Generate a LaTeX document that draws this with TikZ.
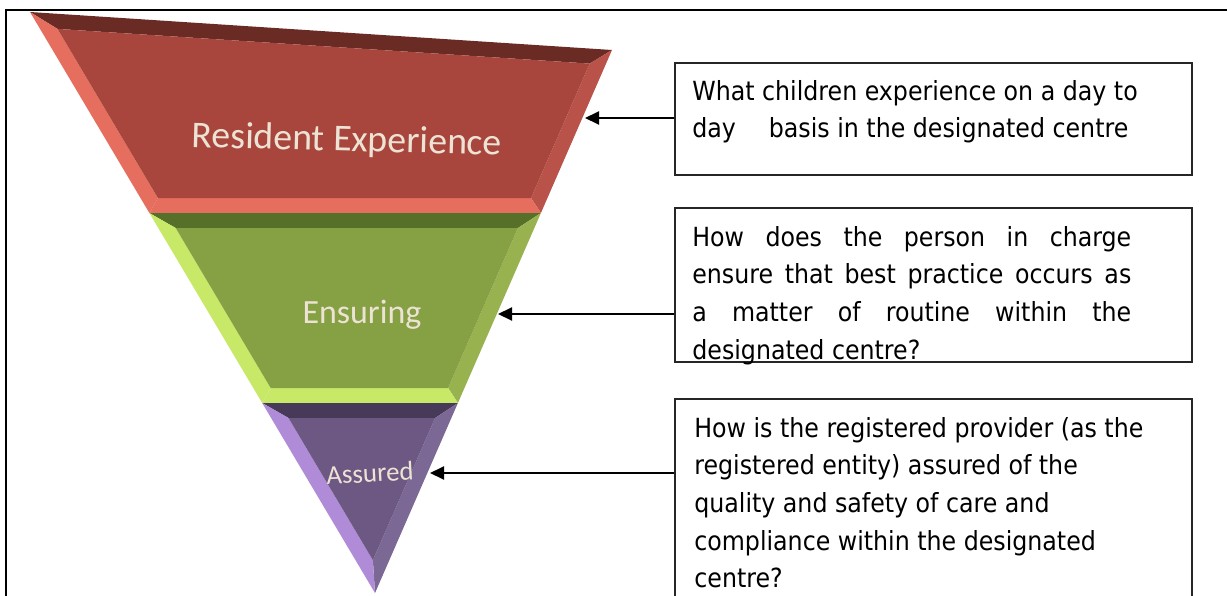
\documentclass[tikz,border=0pt]{standalone}
\usepackage{fontspec}
\setmainfont{DejaVu Sans Condensed}
\newfontfamily\calibri{Carlito}
\usetikzlibrary{arrows.meta}

% faces of the bevelled funnel
\definecolor{redmain}{HTML}{A8463D}
\definecolor{redtop}{HTML}{6B2B25}
\definecolor{redside}{HTML}{B9534A}
\definecolor{redrim}{HTML}{E66E5E}
\definecolor{grnmain}{HTML}{86A044}
\definecolor{grntop}{HTML}{56702A}
\definecolor{grnside}{HTML}{97B24E}
\definecolor{grnrim}{HTML}{C8E868}
\definecolor{purmain}{HTML}{6C5882}
\definecolor{purtop}{HTML}{463A58}
\definecolor{purside}{HTML}{7C6894}
\definecolor{purrim}{HTML}{B08CD8}
\definecolor{labeltext}{HTML}{EDE3D5}

\begin{document}
\begin{tikzpicture}[x=0.02cm,y=-0.02cm,
  qbox/.style={draw=black!85,line width=0.035cm,minimum width=10.34cm,anchor=north west,inner sep=0},
  qtext/.style={anchor=north west,inner sep=0,font=\fontsize{15}{21.4}\selectfont},
  lbl/.style={text=labeltext,inner sep=0},
  pointer/.style={-{Triangle[length=0.28cm,width=0.26cm]},line width=0.04cm}]
\useasboundingbox (0,0) rectangle (1227,595);
\draw[line width=0.06cm] (6,600) -- (6,10) -- (1230,10);

% top band
\fill[redtop] (30,12) -- (612,50) -- (589.7,63.6) -- (57.5,28.9) -- cycle;
\fill[redside] (612,50) -- (540.9,213) -- (531,198) -- (589.7,63.6) -- cycle;
\fill[redrim] (540.9,213) -- (149.4,213) -- (157.9,198) -- (531,198) -- cycle;
\fill[redrim] (149.4,213) -- (30,12) -- (57.5,28.9) -- (157.9,198) -- cycle;
\fill[redmain] (57.5,28.9) -- (589.7,63.6) -- (531,198) -- (157.9,198) -- cycle;
% middle band
\fill[grntop] (149.4,213) -- (540.9,213) -- (517.9,228) -- (175.7,228) -- cycle;
\fill[grnside] (540.9,213) -- (457.9,403) -- (448.1,388) -- (517.9,228) -- cycle;
\fill[grnrim] (457.9,403) -- (262.2,403) -- (270.7,388) -- (448.1,388) -- cycle;
\fill[grnrim] (262.2,403) -- (149.4,213) -- (175.7,228) -- (270.7,388) -- cycle;
\fill[grnmain] (175.7,228) -- (517.9,228) -- (448.1,388) -- (270.7,388) -- cycle;
% tip
\fill[purtop] (262.2,403) -- (457.9,403) -- (435.1,418) -- (288.5,418) -- cycle;
\fill[purside] (457.9,403) -- (375,593) -- (372.9,560.2) -- (435.1,418) -- cycle;
\fill[purrim] (375,593) -- (262.2,403) -- (288.5,418) -- (372.9,560.2) -- cycle;
\fill[purmain] (288.5,418) -- (435.1,418) -- (372.9,560.2) -- cycle;

\node[lbl,font=\calibri\fontsize{21.5}{24}\selectfont,rotate=-1.5] (resident) at (347,141) {Resident Experience};
\node[lbl,font=\calibri\fontsize{19.3}{22}\selectfont] (ensuring) at (362,315) {Ensuring};
\node[lbl,font=\calibri\fontsize{15.3}{18}\selectfont,rotate=3] (assured) at (370,473) {Assured};

\coordinate (tipres) at (585,118);
\coordinate (tipens) at (498,314);
\coordinate (tipass) at (430,473);

\node[qbox,minimum height=2.24cm] (qres) at (674,62) {};
\node[qbox,minimum height=3.08cm] (qens) at (674,207) {};
\node[qbox,minimum height=4.8cm] (qass) at (674,398) {};

\node[qtext,align=left] (tres) at (692,80) {What children experience on a day to\\day\hspace{0.66cm}basis in the designated centre};
\node[qtext,text width=8.78cm,align=justify] (tens) at (692,226) {How does the person in charge\linebreak ensure that best practice occurs as\linebreak a matter of routine within the\linebreak designated centre?};
\node[qtext,align=left] (tass) at (694,417) {How is the registered provider (as the\\registered entity) assured of the\\quality and safety of care and\\compliance within the designated\\centre?};

\draw[pointer] (tipres -| qres.west) -- (tipres);
\draw[pointer] (tipens -| qens.west) -- (tipens);
\draw[pointer] (tipass -| qass.west) -- (tipass);
\end{tikzpicture}
\end{document}
